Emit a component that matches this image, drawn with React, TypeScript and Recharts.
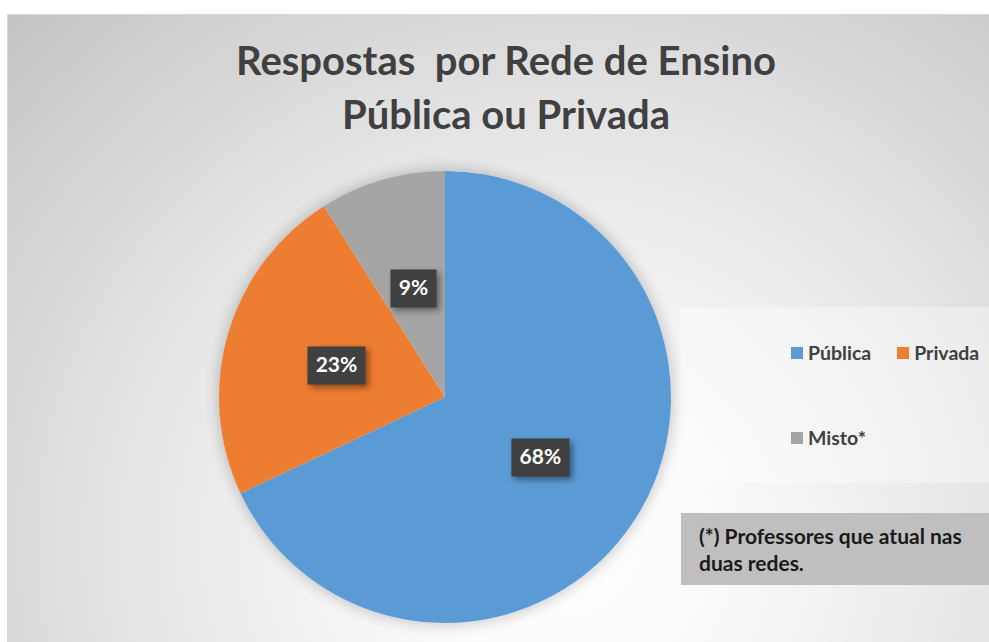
import { Cell, Legend, Pie, PieChart } from "recharts";

const categories = ["Pública", "Privada", "Misto*"];
const shares = [68, 23, 9];
const colors = ["#5b9bd5", "#ed7d31", "#a5a5a5"];

const titleLines = ["Respostas  por Rede de Ensino", "Pública ou Privada"];
const noteLines = ["(*) Professores que atual nas", "duas redes."];

const data = categories.map((name, i) => ({ name, value: shares[i] }));

const FONT = "Lato, 'Open Sans', sans-serif";
const RAD = Math.PI / 180;

function renderLabel(props: any) {
    const { cx, cy, midAngle, outerRadius, percent } = props;
    const r = outerRadius * 0.5;
    const x = cx + r * Math.cos(-midAngle * RAD);
    const y = cy + r * Math.sin(-midAngle * RAD);
    const text = `${Math.round(percent * 100)}%`;
    const w = 22 + 12 * text.length;
    const h = 38;
    return (
        <g>
            <rect
                x={x - w / 2}
                y={y - h / 2}
                width={w}
                height={h}
                fill="#404040"
                style={{ filter: "drop-shadow(3px 3px 3px rgba(0,0,0,0.45))" }}
            />
            <text
                x={x}
                y={y + 1}
                textAnchor="middle"
                dominantBaseline="middle"
                fill="#ffffff"
                fontFamily={FONT}
                fontWeight={700}
                fontSize={21}
            >
                {text}
            </text>
        </g>
    );
}

function LegendContent({ payload }: any) {
    const items = [...(payload ?? [])].sort(
        (a: any, b: any) => categories.indexOf(a.value) - categories.indexOf(b.value)
    );
    return (
        <div
            style={{
                display: "flex",
                flexWrap: "wrap",
                columnGap: 26,
                rowGap: 62,
                paddingLeft: 111,
                paddingTop: 34,
                boxSizing: "border-box",
                width: 309,
            }}
        >
            {items.map((p: any) => (
                <div key={p.value} style={{ display: "flex", alignItems: "center", gap: 5 }}>
                    <span style={{ width: 12, height: 12, background: p.color, display: "inline-block" }} />
                    <span style={{ fontFamily: FONT, fontWeight: 700, fontSize: 19.5, color: "#404040" }}>{p.value}</span>
                </div>
            ))}
        </div>
    );
}

export default function App() {
    return (
        <div style={{ position: "absolute", left: 0, top: 0, width: 989, height: 642, background: "#ffffff", overflow: "hidden" }}>
            <div
                style={{
                    position: "absolute",
                    left: 7,
                    top: 14,
                    width: 990,
                    height: 640,
                    borderTop: "1px solid #d9d9d9",
                    borderLeft: "1px solid #d9d9d9",
                    background:
                        "radial-gradient(ellipse farthest-corner at 56% 82%, #ffffff 0%, #fbfbfb 18%, #e9e9e9 50%, #c4c4c4 100%)",
                }}
            />
            <div
                style={{
                    position: "absolute",
                    left: 680,
                    top: 307,
                    width: 309,
                    height: 176,
                    background: "rgba(255,255,255,0.35)",
                }}
            />
            <div
                style={{
                    position: "absolute",
                    left: 681,
                    top: 513,
                    width: 308,
                    height: 72,
                    background: "#bfbfbf",
                    boxSizing: "border-box",
                    padding: "9px 0 0 18px",
                    fontFamily: FONT,
                    fontWeight: 700,
                    fontSize: 21,
                    lineHeight: "27px",
                    color: "#1a1a1a",
                    whiteSpace: "nowrap",
                }}
            >
                {noteLines.map((l) => (
                    <div key={l}>{l}</div>
                ))}
            </div>
            <div
                style={{
                    position: "absolute",
                    left: 219,
                    top: 171,
                    width: 452,
                    height: 452,
                    borderRadius: "50%",
                    boxShadow: "0 0 14px 2px rgba(0,0,0,0.2)",
                }}
            />
            <div
                style={{
                    position: "absolute",
                    left: 0,
                    top: 33,
                    width: 1012,
                    textAlign: "center",
                    fontFamily: FONT,
                    fontWeight: 700,
                    fontSize: 40,
                    lineHeight: "54px",
                    color: "#404040",
                    whiteSpace: "pre",
                }}
            >
                {titleLines.map((l) => (
                    <div key={l}>{l}</div>
                ))}
            </div>
            <div style={{ position: "absolute", left: 0, top: 0 }}>
                <PieChart width={989} height={642} margin={{ top: 0, right: 0, bottom: 0, left: 0 }}>
                    <Pie
                        data={data}
                        dataKey="value"
                        nameKey="name"
                        cx={445}
                        cy={397}
                        outerRadius={226}
                        startAngle={90}
                        endAngle={-270}
                        stroke="none"
                        label={renderLabel}
                        labelLine={false}
                        isAnimationActive={false}
                    >
                        {data.map((d, i) => (
                            <Cell key={d.name} fill={colors[i]} />
                        ))}
                    </Pie>
                    <Legend
                        content={<LegendContent />}
                        wrapperStyle={{ position: "absolute", left: 680, top: 307, width: 309, height: 176 }}
                    />
                </PieChart>
            </div>
        </div>
    );
}
